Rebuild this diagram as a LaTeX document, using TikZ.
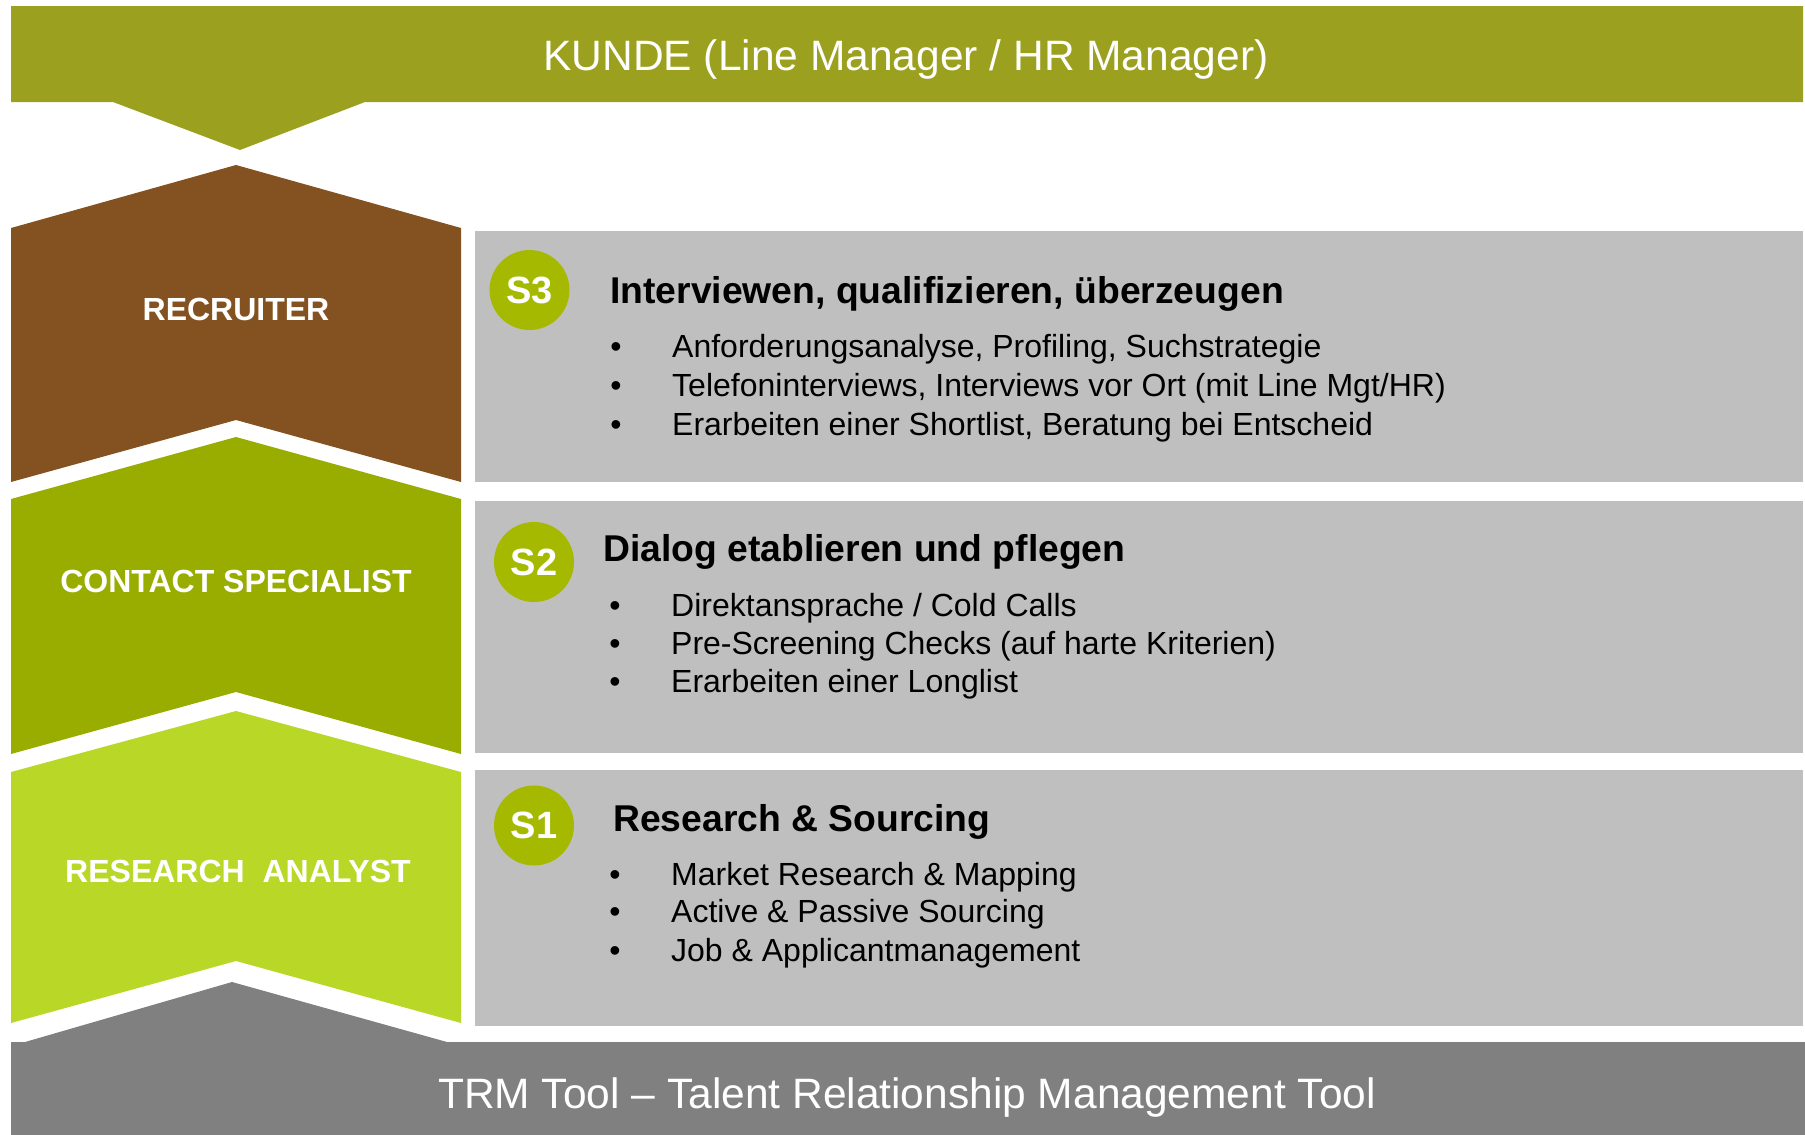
\documentclass[tikz,border=0pt]{standalone}
\usepackage{fontspec}
\setmainfont{Liberation Sans}
\definecolor{kunde}{RGB}{155,160,31}
\definecolor{brownc}{RGB}{132,82,32}
\definecolor{greenc}{RGB}{153,173,0}
\definecolor{lightg}{RGB}{185,215,39}
\definecolor{boxg}{RGB}{191,191,191}
\definecolor{darkg}{RGB}{128,128,128}
\definecolor{circ}{RGB}{165,185,0}
\tikzset{
  bandtext/.style={text=white,inner sep=0pt,anchor=base,font=\fontsize{42.5}{48}\selectfont},
  roletext/.style={text=white,inner sep=0pt,anchor=base,font=\bfseries\fontsize{32}{36}\selectfont},
  heading/.style={text=black,inner sep=0pt,anchor=base west,font=\bfseries\fontsize{37.3}{44}\selectfont},
  item/.style={text=black,inner sep=0pt,anchor=base west,font=\fontsize{32}{38}\selectfont},
  bul/.style={text=black,inner sep=0pt,anchor=base,font=\fontsize{32}{38}\selectfont},
  stepcirc/.style={circle,fill=circ,minimum size=80pt,inner sep=0pt,text=white,font=\bfseries\fontsize{38}{44}\selectfont},
}
\begin{document}
\begin{tikzpicture}[x=1pt,y=-1pt]
\useasboundingbox (0,0) rectangle (1805,1135);
% top band
\fill[kunde] (11,6) -- (1803,6) -- (1803,102) -- (365,102) -- (240,150) -- (113,102) -- (11,102) -- cycle;
\node[bandtext] (kunde) at (906,70) {KUNDE (Line Manager / HR Manager)};
% chevrons
\fill[brownc] (11,228) -- (236,165) -- (461,228) -- (461,482) -- (236,420) -- (11,482) -- cycle;
\fill[greenc] (11,499) -- (236,437) -- (461,499) -- (461,754) -- (236,692) -- (11,754) -- cycle;
\fill[lightg] (11,772) -- (236,711) -- (461,772) -- (461,1023) -- (236,961) -- (11,1023) -- cycle;
% bottom band
\fill[darkg] (11,1042) -- (25,1042) -- (232,982) -- (447,1042) -- (1805,1042) -- (1805,1135) -- (11,1135) -- cycle;
\node[bandtext] (trm) at (907,1108) {TRM Tool – Talent Relationship Management Tool};
% role labels
\node[roletext] (recruiter) at (236,320) {RECRUITER};
\node[roletext] (contact) at (236,592.5) {CONTACT SPECIALIST};
\node[roletext] (research) at (238,882.5) {RESEARCH\ \ ANALYST};
% gray boxes
\fill[boxg] (475,231) rectangle (1803,482);
\fill[boxg] (475,501) rectangle (1803,753);
\fill[boxg] (475,770) rectangle (1803,1026);
% S3
\node[stepcirc] (s3) at (529.5,290) {S3};
\node[heading] (h3) at (610,303.5) {Interviewen, qualifizieren, überzeugen};
\node[bul] (b31) at (616,357) {•};
\node[item] (t31) at (672,357) {Anforderungsanalyse, Profiling, Suchstrategie};
\node[bul] (b32) at (616,396.5) {•};
\node[item] (t32) at (672,396.5) {Telefoninterviews, Interviews vor Ort (mit Line Mgt/HR)};
\node[bul] (b33) at (616,435) {•};
\node[item] (t33) at (672,435) {Erarbeiten einer Shortlist, Beratung bei Entscheid};
% S2
\node[stepcirc] (s2) at (534,562) {S2};
\node[heading] (h2) at (603,561.7) {Dialog etablieren und pflegen};
\node[bul] (b21) at (615,616) {•};
\node[item] (t21) at (671,616) {Direktansprache / Cold Calls};
\node[bul] (b22) at (615,654) {•};
\node[item] (t22) at (671,654) {Pre-Screening Checks (auf harte Kriterien)};
\node[bul] (b23) at (615,692.3) {•};
\node[item] (t23) at (671,692.3) {Erarbeiten einer Longlist};
% S1
\node[stepcirc] (s1) at (534,825.5) {S1};
\node[heading] (h1) at (613,831) {Research \& Sourcing};
\node[bul] (b11) at (615,885) {•};
\node[item] (t11) at (671,885) {Market Research \& Mapping};
\node[bul] (b12) at (615,922.7) {•};
\node[item] (t12) at (671,922.7) {Active \& Passive Sourcing};
\node[bul] (b13) at (615,961.7) {•};
\node[item] (t13) at (671,961.7) {Job \& Applicantmanagement};
\end{tikzpicture}
\end{document}
